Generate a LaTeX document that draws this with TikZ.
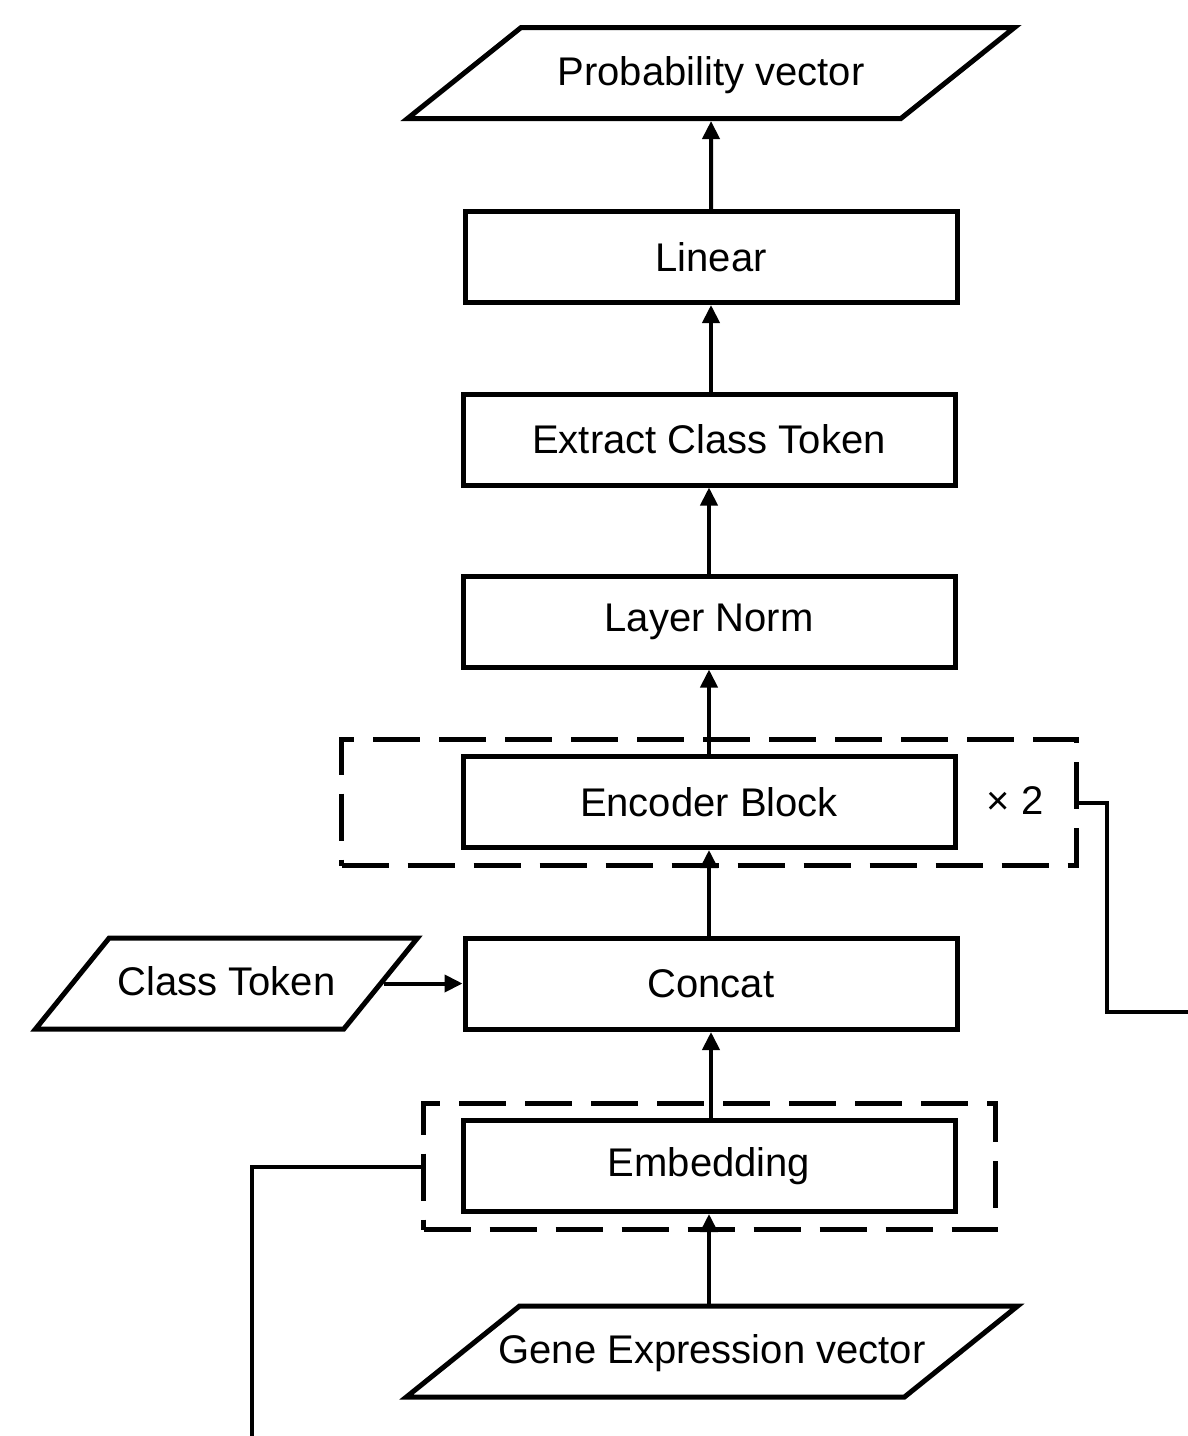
\documentclass[tikz,border=0pt]{standalone}
\usepackage{fontspec}
\setmainfont{Liberation Sans}
\usepackage{tikz}
\usetikzlibrary{positioning}
\usetikzlibrary{arrows.meta}
\usetikzlibrary{shapes.geometric}

\tikzset{
 layer/.style={draw,line width=2.5pt,minimum width=246pt,minimum height=45.5pt,inner sep=0pt},
 iodata/.style={draw,line width=2.5pt,trapezium,trapezium stretches body,inner xsep=0pt,inner ysep=12.75pt,text height=16pt,text depth=4pt},
 group/.style={draw,line width=2.5pt,dash pattern=on 23.5pt off 9.5pt,inner sep=0pt},
 flow/.style={line width=2pt,-{Triangle[length=9pt,width=8.5pt]}},
 link/.style={line width=2pt}
}

\begin{document}
\begin{tikzpicture}[x=0.5pt,y=-0.5pt,font=\fontsize{20}{24}\selectfont]
 \useasboundingbox[fill=white] (0,0) rectangle (1188,1436);
 % groups
 \node[group,minimum width=367.5pt,minimum height=63pt] (encgrp) at (709,802.5) {};
 \node[group,minimum width=286pt,minimum height=63pt] (embgrp) at (709.5,1166.5) {};
 % inputs and outputs
 \node[iodata,trapezium left angle=38.7,trapezium right angle=141.3,minimum width=303.5pt] (prob) at (711,73) {Probability vector};
 \node[iodata,trapezium left angle=51,trapezium right angle=129,minimum width=191pt] (ctok) at (226.5,983.5) {Class Token};
 \node[iodata,trapezium left angle=38.8,trapezium right angle=141.2,minimum width=305pt,inner xsep=-10.5pt] (gene) at (712,1351.5) {Gene Expression vector};
 % layers
 \node[layer] (linear) at (711,257) {Linear};
 \node[layer] (extract) at (709,439.5) {Extract Class Token};
 \node[layer] (lnorm) at (709,621.5) {Layer Norm};
 \node[layer] (encoder) at (709,802) {Encoder Block};
 \node[layer] (concat) at (711,984) {Concat};
 \node[layer] (embed) at (709,1166) {Embedding};
 \node (times) at (1015,801) {× 2};
 % arrows
 \draw[flow] (gene.north -| embed) -- (embed.south);
 \draw[flow] (embed.north -| concat) -- (concat.south);
 \draw[flow] (ctok.east) -- (concat.west |- ctok.east);
 \draw[flow] (concat.north -| encoder) -- (encoder.south);
 \draw[flow] (encoder.north -| lnorm) -- (lnorm.south);
 \draw[flow] (lnorm.north -| extract) -- (extract.south);
 \draw[flow] (extract.north -| linear) -- (linear.south);
 \draw[flow] (linear.north -| prob) -- (prob.south);
 % brackets
 \coordinate (repbend) at (1107,1012);
 \coordinate (repout) at (1188,1012);
 \coordinate (embout) at (252,1436);
 \draw[link] (encgrp.east) -| (repbend) -- (repout);
 \draw[link] (embgrp.west) -| (embout);
\end{tikzpicture}
\end{document}
